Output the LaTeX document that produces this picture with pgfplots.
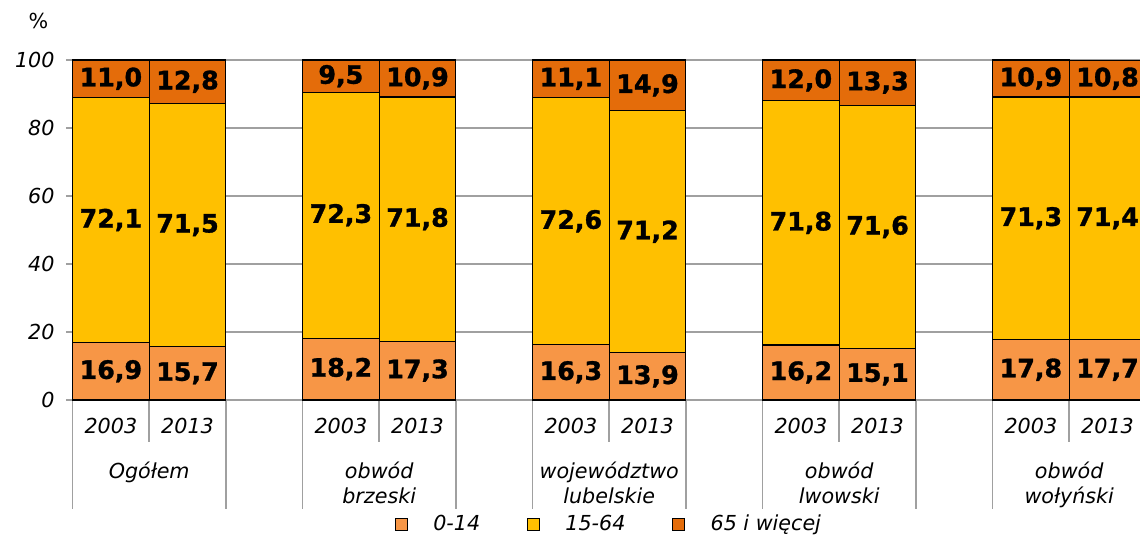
\documentclass[border=0pt]{standalone}
\usepackage{fontspec}
\setmainfont{DejaVu Sans}
\newfontfamily\valfam{DejaVu Sans Bold}[FakeBold=1.2]
\usepackage{pgfplots}
\usepackage{pgfplotstable}
\pgfplotsset{compat=1.18}
\definecolor{cA}{RGB}{247,150,70}
\definecolor{cB}{RGB}{255,192,0}
\definecolor{cC}{RGB}{228,108,10}
\definecolor{gridgray}{RGB}{160,160,160}

\pgfplotstableread{
x v
0.5 16.9
1.5 15.7
3.5 18.2
4.5 17.3
6.5 16.3
7.5 13.9
9.5 16.2
10.5 15.1
12.5 17.8
13.5 17.7
}\young
\pgfplotstableread{
x v
0.5 72.1
1.5 71.5
3.5 72.3
4.5 71.8
6.5 72.6
7.5 71.2
9.5 71.8
10.5 71.6
12.5 71.3
13.5 71.4
}\middle
\pgfplotstableread{
x v
0.5 11.0
1.5 12.8
3.5 9.5
4.5 10.9
6.5 11.1
7.5 14.9
9.5 12.0
10.5 13.3
12.5 10.9
13.5 10.8
}\old

\newcommand{\tickfont}{\fontsize{15.5}{18}\selectfont\itshape}
\newcommand{\valfont}{\fontsize{19}{22}\selectfont\valfam}

\begin{document}
\begin{tikzpicture}
\begin{axis}[
  scale only axis, width=805pt, height=255pt,
  xmin=0, xmax=14, ymin=0, ymax=100,
  ybar stacked, bar width=1,
  clip=false,
  axis line style={draw=none},
  ymajorgrids, grid style={gridgray, line width=1.2pt},
  ytick={0,20,40,60,80,100},
  xtick={0.5,1.5,3.5,4.5,6.5,7.5,9.5,10.5,12.5,13.5},
  xticklabels={2003,2013,2003,2013,2003,2013,2003,2013,2003,2013},
  tick align=outside, major tick length=5pt,
  tick style={gridgray, line width=1.2pt},
  xtick style={draw=none},
  xtick pos=lower, ytick pos=left,
  /pgf/number format/assume math mode=true,
  ticklabel style={font=\tickfont},
  xticklabel style={anchor=base, yshift=-20pt},
  yticklabel style={xshift=-5pt},
  point meta=explicit,
  nodes near coords={\pgfmathprintnumber[fixed,fixed zerofill,precision=1,use comma]{\pgfplotspointmeta}},
  every node near coord/.append style={anchor=center, font=\valfont, text=black},
  legend columns=3,
  legend style={draw=none, at={(0.5,-0.365)}, anchor=center, font=\tickfont,
     /tikz/every odd column/.append style={column sep=17pt},
     /tikz/every even column/.append style={column sep=33pt}},
  myleg/.style={legend image code/.code={\draw[##1,line width=0.9pt] (0pt,-4.5pt) rectangle (9pt,4.5pt);}},
]
\addplot[fill=cA, draw=black, line width=0.9pt, myleg] table[x=x,y=v,meta=v] {\young};
\addplot[fill=cB, draw=black, line width=0.9pt, myleg] table[x=x,y=v,meta=v] {\middle};
\addplot[fill=cC, draw=black, line width=0.9pt, myleg] table[x=x,y=v,meta=v] {\old};
\legend{0-14,15-64,65 i więcej}

% category separators
\draw[gridgray, line width=1.2pt] (axis cs:1,0) -- ++(0,-31.5pt);
\draw[gridgray, line width=1.2pt] (axis cs:4,0) -- ++(0,-31.5pt);
\draw[gridgray, line width=1.2pt] (axis cs:7,0) -- ++(0,-31.5pt);
\draw[gridgray, line width=1.2pt] (axis cs:10,0) -- ++(0,-31.5pt);
\draw[gridgray, line width=1.2pt] (axis cs:13,0) -- ++(0,-31.5pt);
\draw[gridgray, line width=1.2pt] (axis cs:0,0) -- ++(0,-82pt);
\draw[gridgray, line width=1.2pt] (axis cs:2,0) -- ++(0,-82pt);
\draw[gridgray, line width=1.2pt] (axis cs:3,0) -- ++(0,-82pt);
\draw[gridgray, line width=1.2pt] (axis cs:5,0) -- ++(0,-82pt);
\draw[gridgray, line width=1.2pt] (axis cs:6,0) -- ++(0,-82pt);
\draw[gridgray, line width=1.2pt] (axis cs:8,0) -- ++(0,-82pt);
\draw[gridgray, line width=1.2pt] (axis cs:9,0) -- ++(0,-82pt);
\draw[gridgray, line width=1.2pt] (axis cs:11,0) -- ++(0,-82pt);
\draw[gridgray, line width=1.2pt] (axis cs:12,0) -- ++(0,-82pt);
\draw[gridgray, line width=1.2pt] (axis cs:14,0) -- ++(0,-82pt);

% group labels
\path (axis cs:1,0) node[anchor=base, font=\tickfont, yshift=-58.5pt] {Ogółem};
\path (axis cs:4,0) node[anchor=base, font=\tickfont, yshift=-58.5pt] {obwód};
\path (axis cs:4,0) node[anchor=base, font=\tickfont, yshift=-77.5pt] {brzeski};
\path (axis cs:7,0) node[anchor=base, font=\tickfont, yshift=-58.5pt] {województwo};
\path (axis cs:7,0) node[anchor=base, font=\tickfont, yshift=-77.5pt] {lubelskie};
\path (axis cs:10,0) node[anchor=base, font=\tickfont, yshift=-58.5pt] {obwód};
\path (axis cs:10,0) node[anchor=base, font=\tickfont, yshift=-77.5pt] {lwowski};
\path (axis cs:13,0) node[anchor=base, font=\tickfont, yshift=-58.5pt] {obwód};
\path (axis cs:13,0) node[anchor=base, font=\tickfont, yshift=-77.5pt] {wołyński};

\path (rel axis cs:0,1) node[font=\fontsize{15.5}{18}\selectfont, xshift=-25.5pt, yshift=29pt] {\%};
\end{axis}
\pgfresetboundingbox
\useasboundingbox (-54.4pt,-102pt) rectangle (800.6pt,300pt);
\end{tikzpicture}
\end{document}
